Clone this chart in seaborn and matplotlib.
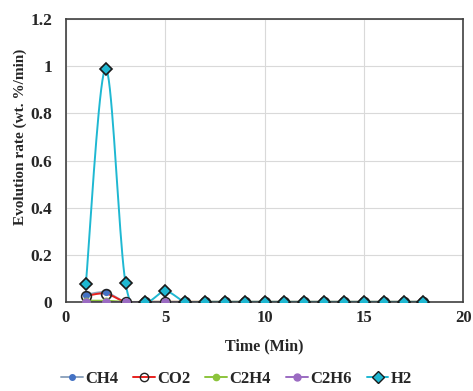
import matplotlib
matplotlib.use("Agg")
import matplotlib.pyplot as plt
from matplotlib.lines import Line2D
import numpy as np
import pandas as pd
import seaborn as sns

time = list(range(1, 19))
ch4 = [0.03, 0.04, 0.0] + [0.0] * 15
co2 = [0.025, 0.035, 0.0] + [0.0] * 15
c2h4 = [0.005, 0.005, 0.0] + [0.0] * 15
c2h6 = [0.0, 0.0, 0.0] + [0.0] * 15
h2 = [0.075, 0.99, 0.08, 0.0, 0.045] + [0.0] * 13

series = {"CH4": ch4, "CO2": co2, "C2H4": c2h4, "C2H6": c2h6, "H2": h2}

styles = {
    "CH4": dict(line="#8FA5BF", mk="o", face="#4472C4", edge="#4472C4", ms=4),
    "CO2": dict(line="#E8201E", mk="o", face="none", edge="#222222", ms=7),
    "C2H4": dict(line="#8CC43C", mk="o", face="#8CC43C", edge="#8CC43C", ms=4.5),
    "C2H6": dict(line="#9B6BC2", mk="o", face="#9B6BC2", edge="#9B6BC2", ms=5),
    "H2": dict(line="#1FB8D2", mk="D", face="#1FB8D2", edge="#1A1A1A", ms=6),
}


def smooth(x, y, n=20):
    # excel-like smoothed line (cardinal bezier through the points)
    x = np.asarray(x, float)
    y = np.asarray(y, float)
    px = np.concatenate([[x[0]], x, [x[-1]]])
    py = np.concatenate([[y[0]], y, [y[-1]]])
    xs, ys = [], []
    t = np.linspace(0, 1, n)
    for i in range(1, len(px) - 2):
        p0 = np.array([px[i], py[i]])
        p3 = np.array([px[i + 1], py[i + 1]])
        p1 = p0 + (np.array([px[i + 1], py[i + 1]]) - np.array([px[i - 1], py[i - 1]])) / 6
        p2 = p3 - (np.array([px[i + 2], py[i + 2]]) - np.array([px[i], py[i]])) / 6
        b = ((1 - t) ** 3)[:, None] * p0 + (3 * (1 - t) ** 2 * t)[:, None] * p1 \
            + (3 * (1 - t) * t ** 2)[:, None] * p2 + (t ** 3)[:, None] * p3
        xs.extend(b[:, 0])
        ys.extend(b[:, 1])
    return np.array(xs), np.array(ys)


sns.set_style("white")
plt.rcParams["font.family"] = ["Liberation Serif", "DejaVu Serif"]
plt.rcParams["font.weight"] = "bold"

fig = plt.figure(figsize=(4.73, 3.91), dpi=100)
ax = fig.add_axes([0.1395, 0.228, 0.8395, 0.723])

for name, vals in series.items():
    st = styles[name]
    sx, sy = smooth(time, vals)
    df = pd.DataFrame({"t": sx, "v": sy})
    sns.lineplot(data=df, x="t", y="v", ax=ax, color=st["line"], lw=1.4,
                 sort=False, estimator=None, zorder=2)
    ax.plot(time, vals, ls="none", marker=st["mk"], ms=st["ms"],
            markerfacecolor=st["face"], markeredgecolor=st["edge"],
            markeredgewidth=1.2, zorder=3)

ax.set_xlim(0, 20)
ax.set_ylim(0, 1.2)
ax.set_xticks([0, 5, 10, 15, 20])
ax.set_yticks([0, 0.2, 0.4, 0.6, 0.8, 1.0, 1.2])
ax.set_yticklabels(["0", "0.2", "0.4", "0.6", "0.8", "1", "1.2"])
ax.grid(True, color="#D9D9D9", lw=0.8)
ax.set_axisbelow(True)
for sp in ax.spines.values():
    sp.set_color("#404040")
    sp.set_linewidth(1.2)
ax.tick_params(axis="both", labelsize=12, length=0)
ax.tick_params(axis="x", pad=6)
ax.tick_params(axis="y", pad=10, labelsize=12.5)
for lab in ax.get_xticklabels() + ax.get_yticklabels():
    lab.set_fontweight("bold")
ax.set_xlabel("Time (Min)", fontsize=11.5, fontweight="bold", labelpad=9)
ax.set_ylabel("Evolution rate (wt. %/min)", fontsize=11, fontweight="bold")
ax.yaxis.set_label_coords(-0.098, 0.583)

handles = []
for name in series:
    st = styles[name]
    handles.append(Line2D([], [], color=st["line"], lw=1.4, marker=st["mk"],
                          ms=min(st["ms"], 6), markerfacecolor=st["face"],
                          markeredgecolor=st["edge"], markeredgewidth=1.0))
fig.legend(handles, list(series), loc="center", bbox_to_anchor=(0.5, 0.03),
           ncol=5, frameon=False, handlelength=1.3, handletextpad=0.15,
           columnspacing=0.9, prop={"size": 12, "weight": "bold"})

fig.savefig("out.png", dpi=100)
